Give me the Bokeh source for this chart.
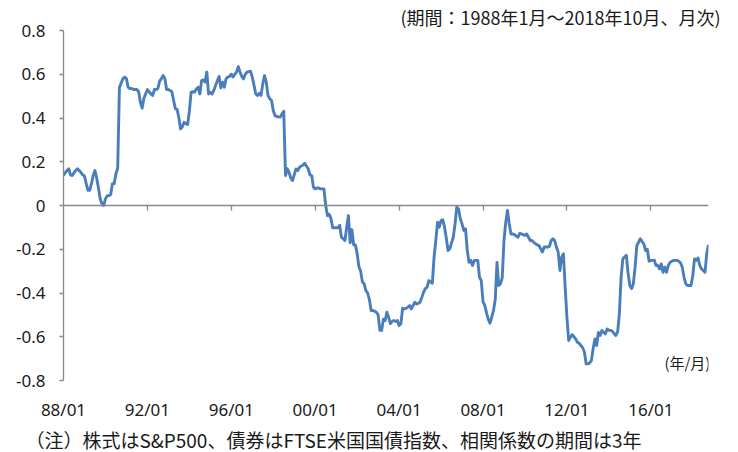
from bokeh.plotting import figure
from bokeh.models import Range1d, LinearAxis, FixedTicker, Label, Title
from bokeh.embed import file_html
from bokeh.resources import INLINE

# Monthly correlation (stocks vs bonds, 3-year window), 1988/01 - 2018/10
corr_1988_1992 = [
    0.137, 0.15, 0.16, 0.168, 0.14, 0.137, 0.15, 0.16, 0.168, 0.16, 0.15, 0.14,
    0.135, 0.10, 0.069, 0.07, 0.10, 0.137, 0.16, 0.125, 0.08, 0.03, 0.008, 0.0,
    0.03, 0.045, 0.045, 0.05, 0.10, 0.10, 0.145, 0.17, 0.54, 0.56, 0.58, 0.587,
    0.58, 0.54, 0.535, 0.535, 0.53, 0.53, 0.53, 0.52, 0.472, 0.445, 0.49, 0.51,
    0.53, 0.52, 0.51, 0.503, 0.53, 0.53, 0.535, 0.569, 0.58, 0.594, 0.58, 0.53,
]
corr_1993_1997 = [
    0.53, 0.526, 0.52, 0.48, 0.442, 0.44, 0.40, 0.35, 0.36, 0.38, 0.375, 0.37,
    0.43, 0.518, 0.52, 0.518, 0.533, 0.541, 0.51, 0.571, 0.574, 0.564, 0.61, 0.51,
    0.518, 0.51, 0.526, 0.549, 0.57, 0.59, 0.538, 0.564, 0.541, 0.579, 0.587, 0.59,
    0.60, 0.587, 0.60, 0.61, 0.635, 0.61, 0.59, 0.579, 0.60, 0.61, 0.612, 0.614,
    0.587, 0.549, 0.51, 0.503, 0.513, 0.503, 0.556, 0.594, 0.564, 0.503, 0.488, 0.48,
]
corr_1998_2002 = [
    0.434, 0.411, 0.407, 0.405, 0.404, 0.419, 0.431, 0.137, 0.168, 0.152, 0.126, 0.114,
    0.14, 0.167, 0.16, 0.175, 0.18, 0.185, 0.193, 0.18, 0.168, 0.14, 0.137, 0.084,
    0.076, 0.08, 0.08, 0.076, 0.076, 0.076, 0.0, -0.046, -0.04, -0.06, -0.102, -0.102,
    -0.102, -0.102, -0.09, -0.145, -0.152, -0.16, -0.1, -0.046, -0.17, -0.11, -0.18, -0.18,
    -0.22, -0.28, -0.30, -0.35, -0.358, -0.389, -0.40, -0.43, -0.48, -0.48, -0.483, -0.488,
]
corr_2003_2007 = [
    -0.50, -0.571, -0.571, -0.52, -0.526, -0.488, -0.511, -0.54, -0.53, -0.526, -0.53, -0.526,
    -0.549, -0.541, -0.47, -0.473, -0.47, -0.465, -0.457, -0.473, -0.457, -0.442, -0.45, -0.447,
    -0.442, -0.42, -0.396, -0.38, -0.373, -0.343, -0.35, -0.355, -0.236, -0.16, -0.076, -0.099,
    -0.069, -0.065, -0.099, -0.15, -0.206, -0.198, -0.17, -0.145, -0.084, -0.008, -0.015, -0.061,
    -0.084, -0.114, -0.107, -0.206, -0.26, -0.251, -0.274, -0.251, -0.251, -0.251, -0.328, -0.343,
]
corr_2008_2012 = [
    -0.44, -0.457, -0.49, -0.52, -0.538, -0.51, -0.48, -0.43, -0.26, -0.366, -0.358, -0.33,
    -0.16, -0.076, -0.023, -0.084, -0.13, -0.13, -0.133, -0.14, -0.145, -0.127, -0.13, -0.133,
    -0.137, -0.13, -0.145, -0.16, -0.16, -0.168, -0.175, -0.18, -0.183, -0.198, -0.213, -0.19,
    -0.19, -0.19, -0.187, -0.16, -0.152, -0.16, -0.19, -0.213, -0.297, -0.236, -0.221, -0.373,
    -0.51, -0.617, -0.602, -0.59, -0.60, -0.61, -0.625, -0.63, -0.64, -0.65, -0.67, -0.724,
]
corr_2013_2018 = [
    -0.724, -0.72, -0.709, -0.655, -0.61, -0.64, -0.58, -0.594, -0.571, -0.58, -0.587, -0.564,
    -0.571, -0.571, -0.575, -0.585, -0.594, -0.579, -0.495, -0.328, -0.244, -0.235, -0.228, -0.31,
    -0.366, -0.38, -0.358, -0.282, -0.183, -0.168, -0.152, -0.165, -0.175, -0.206, -0.2, -0.255,
    -0.251, -0.251, -0.25, -0.274, -0.274, -0.29, -0.267, -0.305, -0.282, -0.305, -0.274, -0.26,
    -0.255, -0.251, -0.251, -0.251, -0.255, -0.262, -0.282, -0.328, -0.358, -0.366, -0.366, -0.366,
    -0.32, -0.244, -0.251, -0.24, -0.274, -0.29, -0.297, -0.305, -0.22, -0.18,
]

x_tick_labels = ["88/01", "92/01", "96/01", "00/01", "04/01", "08/01", "12/01", "16/01"]
months_per_label = 48
y_ticks = [0.8, 0.6, 0.4, 0.2, 0, -0.2, -0.4, -0.6, -0.8]
y_tick_labels = ["0.8", "0.6", "0.4", "0.2", "0", "-0.2", "-0.4", "-0.6", "-0.8"]

period_note = "(期間：1988年1月～2018年10月、月次)"
unit_note = "(年/月)"
footnote = "（注）株式はS&P500、債券はFTSE米国国債指数、相関係数の期間は3年"

corr = (corr_1988_1992 + corr_1993_1997 + corr_1998_2002 +
        corr_2003_2007 + corr_2008_2012 + corr_2013_2018)
months = list(range(len(corr)))
n_last = len(corr) - 1
x_ticks = [k * months_per_label for k in range(len(x_tick_labels))]

AXIS = "#898989"
TEXT = "#1a1a1a"
LINE = "#4A7EBB"
JP = "Noto Sans CJK JP"
NUM = "Noto Sans"

p = figure(frame_width=645, frame_height=350, output_backend="svg", toolbar_location=None,
           x_range=Range1d(0, n_last), y_range=Range1d(-0.8, 0.8),
           min_border_left=63, min_border_right=22, min_border_top=30, min_border_bottom=64,
           background_fill_color="white", border_fill_color="white")
p.outline_line_color = None
p.grid.visible = False
p.title.visible = False

p.line(months, corr, line_color=LINE, line_width=2.9, line_join="round")

# x labels (bottom)
xa = p.xaxis[0]
xa.ticker = FixedTicker(ticks=x_ticks)
xa.major_label_overrides = {t: lab for t, lab in zip(x_ticks, x_tick_labels)}
xa.axis_line_color = None
xa.major_tick_line_color = None
xa.minor_tick_line_color = None
xa.major_tick_out = 0
xa.major_tick_in = 0
xa.major_label_standoff = 17
xa.major_label_text_font = NUM
xa.major_label_text_font_size = "17px"
xa.major_label_text_color = TEXT

# zero line axis with tick marks
za = LinearAxis(fixed_location=0, ticker=FixedTicker(ticks=x_ticks[1:]))
za.major_label_overrides = {t: "" for t in x_ticks[1:]}
za.major_label_text_font_size = "0px"
za.major_label_standoff = 0
za.axis_line_color = AXIS
za.axis_line_width = 1.6
za.major_tick_line_color = AXIS
za.major_tick_line_width = 1.3
za.major_tick_out = 5
za.major_tick_in = 0
za.minor_tick_line_color = None
p.add_layout(za, "below")

ya = p.yaxis[0]
ya.ticker = FixedTicker(ticks=y_ticks)
ya.major_label_overrides = {t: lab for t, lab in zip(y_ticks, y_tick_labels)}
ya.axis_line_color = AXIS
ya.axis_line_width = 1.3
ya.major_tick_line_color = AXIS
ya.major_tick_line_width = 1.3
ya.major_tick_out = 4
ya.major_tick_in = 0
ya.minor_tick_line_color = None
ya.major_label_standoff = 14
ya.major_label_text_font = NUM
ya.major_label_text_font_size = "17px"
ya.major_label_text_color = TEXT

p.add_layout(Title(text=period_note, align="right", offset=-12, standoff=2,
                   text_font=JP, text_font_size="18px", text_font_style="normal",
                   text_color=TEXT), "above")
p.add_layout(Title(text=footnote, align="left", offset=-38, standoff=0,
                   text_font=JP, text_font_size="19px", text_font_style="normal",
                   text_color=TEXT), "below")
p.add_layout(Label(x=370.1, y=-0.718, text=unit_note, text_align="right",
                   text_baseline="middle", text_font=JP, text_font_size="15px",
                   text_color=TEXT))

open("out.html", "w").write(file_html(p, INLINE))
